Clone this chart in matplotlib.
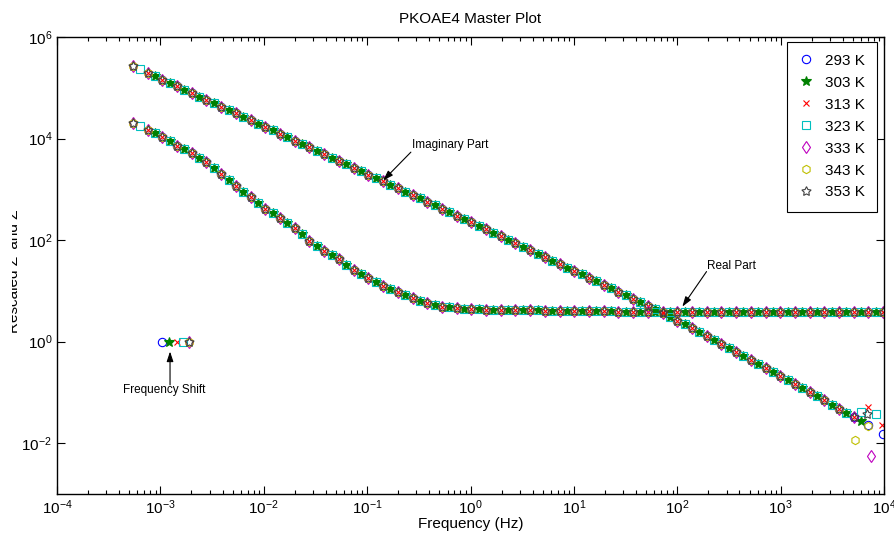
import matplotlib
matplotlib.use('Agg')
import matplotlib.pyplot as plt
from matplotlib.ticker import LogLocator, NullLocator, NullFormatter
from matplotlib.transforms import Bbox

plt.rcParams['font.family'] = ['Liberation Sans', 'DejaVu Sans']
plt.rcParams['axes.unicode_minus'] = False

temps = ['293 K', '303 K', '313 K', '323 K', '333 K', '343 K', '353 K']

# shared sweep (scaled frequency), 303 K and 323 K fall half a step later
freq = [5.43e-4, 7.53e-4, 1.045e-3, 1.45e-3, 2.01e-3, 2.79e-3, 3.88e-3, 5.38e-3, 7.46e-3, 1.037e-2,
        1.44e-2, 2.00e-2, 2.77e-2, 3.85e-2, 5.33e-2, 7.40e-2, 0.1028, 0.1426, 0.198, 0.275,
        0.381, 0.529, 0.735, 1.019, 1.413, 1.963, 2.72, 3.78, 5.24, 7.28,
        10.09, 14.0, 19.45, 27.0, 37.4, 52.0, 72.1, 100.0, 138.7, 192.8,
        267.0, 371.0, 515.0, 714.0, 991.0, 1374.0, 1910.0, 2649.0, 3673.0, 5105.0,
        7079.0, 9817.0]
real_part = [2.04e4, 1.48e4, 1.07e4, 7.24e3, 5.25e3, 3.39e3, 2.00e3, 1.15e3, 708, 417,
             275, 174, 95.5, 60.3, 41.7, 25.7, 17.8, 12.3, 9.55, 7.24,
             5.75, 4.90, 4.57, 4.37, 4.30, 4.25, 4.20, 4.15, 4.10, 4.06,
             4.02, 3.98, 3.95, 3.92, 3.90, 3.88, 3.86, 3.84, 3.82, 3.81,
             3.80, 3.80, 3.80, 3.80, 3.80, 3.80, 3.80, 3.80, 3.80, 3.80,
             3.80, 3.80]
imag_part = [2.69e5, 1.98e5, 1.455e5, 1.069e5, 7.85e4, 5.77e4, 4.24e4, 3.12e4, 2.29e4, 1.68e4,
             1.236e4, 9.08e3, 6.67e3, 4.91e3, 3.61e3, 2.65e3, 1.945e3, 1.429e3, 1.052e3, 773,
             568, 418, 305, 223, 163, 119, 86.7, 63.4, 46.2, 33.7,
             24.7, 18.0, 13.2, 9.59, 7.01, 5.12, 3.74, 2.61, 1.82, 1.27,
             0.885, 0.617, 0.431, 0.300, 0.209, 0.146, 0.102, 0.0698, 0.0479, 0.0329,
             0.0225, 0.0155]

freq_mid = [6.40e-4, 8.87e-4, 1.231e-3, 1.708e-3, 2.37e-3, 3.29e-3, 4.57e-3, 6.34e-3, 8.79e-3, 1.222e-2,
            1.696e-2, 2.36e-2, 3.26e-2, 4.54e-2, 6.28e-2, 8.72e-2, 0.1211, 0.168, 0.233, 0.324,
            0.449, 0.623, 0.866, 1.200, 1.665, 2.31, 3.20, 4.45, 6.17, 8.58,
            11.89, 16.49, 22.9, 31.8, 44.1, 61.3, 84.9, 117.8, 163.4, 227,
            315, 437, 607, 841, 1167, 1619, 2250, 3121, 4327, 6014,
            8339]
real_mid = [1.74e4, 1.26e4, 8.81e3, 6.17e3, 4.22e3, 2.60e3, 1.51e3, 902, 543, 339,
            219, 129, 75.9, 50.1, 32.7, 21.4, 14.8, 10.8, 8.32, 6.46,
            5.31, 4.73, 4.47, 4.33, 4.27, 4.22, 4.17, 4.12, 4.08, 4.04,
            4.00, 3.96, 3.93, 3.91, 3.89, 3.87, 3.85, 3.83, 3.81, 3.80,
            3.80, 3.80, 3.80, 3.80, 3.80, 3.80, 3.80, 3.80, 3.80, 3.80,
            3.80]
imag_mid = [2.31e5, 1.70e5, 1.247e5, 9.16e4, 6.73e4, 4.94e4, 3.64e4, 2.67e4, 1.96e4, 1.442e4,
            1.059e4, 7.78e3, 5.72e3, 4.21e3, 3.09e3, 2.27e3, 1.667e3, 1.226e3, 902, 662,
            487, 357, 261, 190, 139, 101.5, 74.1, 54.2, 39.5, 28.8,
            21.1, 15.4, 11.2, 8.20, 5.99, 4.38, 3.12, 2.18, 1.52, 1.06,
            0.739, 0.515, 0.359, 0.251, 0.175, 0.122, 0.0843, 0.0578, 0.0397, 0.0272,
            0.0186]

on_mid = [False, True, False, True, False, False, False]
first_pt = [2, 1, 1, 0, 0, 0, 0]
imag_stop = [52, 50, 50, 49, 50, 49, 50]

# scattered last points of the imaginary part at the top of the range
tail_freq = [[], [], [7.08e3, 9.66e3], [6.01e3, 8.34e3], [7.41e3], [5.25e3, 7.08e3], [6.92e3]]
tail_imag = [[], [], [0.051, 0.023], [0.042, 0.037], [0.0056], [0.0117, 0.022], [0.038]]

# horizontal shift factor of each temperature
shift_factor = [1.03e-3, 1.22e-3, 1.46e-3, 1.64e-3, 1.90e-3, 1.90e-3, 1.90e-3]

colors = ['b', (0, 0.5, 0), 'r', (0, 0.75, 0.75), (0.75, 0, 0.75), (0.75, 0.75, 0), (0.25, 0.25, 0.25)]
markers = ['o', '*', 'x', 's', 'd', 'h', (5, 1, 0)]
msizes = [6, 7, 4.5, 6, 6, 6, 7]
fills = ['none', 'full', 'none', 'none', 'none', 'none', 'none']

fig = plt.figure(figsize=(8.94, 5.37), dpi=100)
ax = fig.add_axes([57 / 894, 43 / 537, 827 / 894, 457 / 537])

for i, t in enumerate(temps):
    if on_mid[i]:
        f, re, im = freq_mid, real_mid, imag_mid
    else:
        f, re, im = freq, real_part, imag_part
    s = first_pt[i]
    style = dict(linestyle='none', marker=markers[i], color=colors[i], markersize=msizes[i],
                 fillstyle=fills[i], markeredgewidth=0.8)
    f_im = f[s:imag_stop[i]] + tail_freq[i]
    y_im = im[s:imag_stop[i]] + tail_imag[i]
    ax.plot(f_im, y_im, label=t, **style)
    ax.plot(f[s:], re[s:], **style)
    ax.plot([shift_factor[i]], [1.0], **style)

ax.set_xscale('log')
ax.set_yscale('log')
ax.set_xlim(1e-4, 1e4)
ax.set_ylim(1e-3, 1e6)
ax.xaxis.set_major_locator(LogLocator(base=10, numticks=20))
ax.xaxis.set_minor_locator(LogLocator(base=10, subs=range(2, 10), numticks=20))
ax.xaxis.set_minor_formatter(NullFormatter())
ax.set_yticks([1e-2, 1e0, 1e2, 1e4, 1e6])
ax.yaxis.set_minor_locator(NullLocator())
ax.tick_params(which='both', direction='in', top=True, right=True, labelsize=11)
ax.tick_params(which='major', length=6, width=0.8)
ax.tick_params(which='minor', length=3, width=0.8)
for sp in ax.spines.values():
    sp.set_linewidth(1.0)

ax.set_title('PKOAE4 Master Plot', fontsize=11, pad=10)
ax.set_xlabel('Frequency (Hz)', fontsize=11, labelpad=0)

ylab = fig.text(14 / 894, 0.5, "Rescaled Z' and Z''", rotation=90, fontsize=11,
                ha='center', va='center')
ylab.set_clip_box(Bbox.from_extents(12, 0, 30, 537))
ylab.set_clip_on(True)

arrow = dict(arrowstyle='-|>,head_length=0.6,head_width=0.2', color='k', lw=0.8,
             shrinkA=0, shrinkB=0)
ax.annotate('', xy=(0.143, 1.5e3), xytext=(0.265, 5.4e3), arrowprops=arrow)
ax.text(0.27, 7.5e3, 'Imaginary Part', fontsize=8.5, ha='left', va='center')
ax.annotate('', xy=(112, 4.9), xytext=(192, 24), arrowprops=arrow)
ax.text(195, 31, 'Real Part', fontsize=8.5, ha='left', va='center')
ax.annotate('', xy=(1.24e-3, 0.64), xytext=(1.24e-3, 0.141), arrowprops=arrow)
ax.text(1.09e-3, 0.112, 'Frequency Shift', fontsize=8.5, ha='center', va='center')

leg = ax.legend(loc='upper right', bbox_to_anchor=(0.992, 0.99), borderaxespad=0,
                fontsize=11, fancybox=False, edgecolor='k', framealpha=1,
                handlelength=0.9, handletextpad=0.8, labelspacing=0.52, borderpad=0.8)
leg.get_frame().set_linewidth(0.8)

fig.savefig('out.png', dpi=100)
